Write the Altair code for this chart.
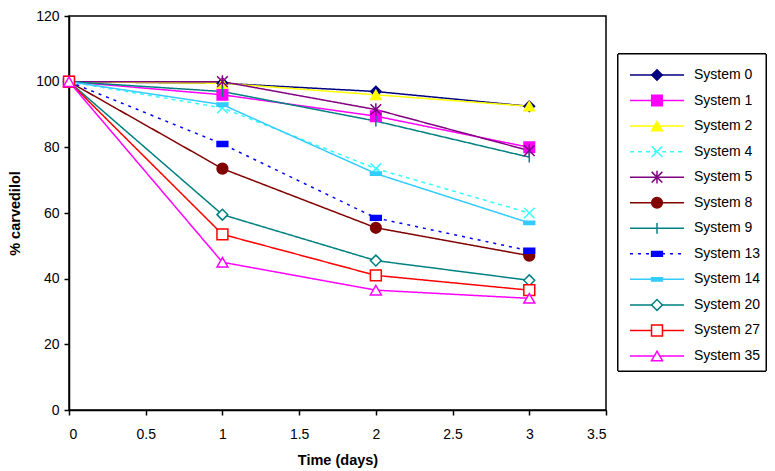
import altair as alt
import pandas as pd

series = ["System 0", "System 1", "System 2", "System 4", "System 5", "System 8",
          "System 9", "System 13", "System 14", "System 20", "System 27", "System 35"]
days = [0, 1, 2, 3]
values = {
    "System 0": [100, 99.5, 97, 92.5],
    "System 1": [100, 96, 89.5, 80],
    "System 2": [100, 99.5, 96, 92.5],
    "System 4": [100, 92, 73.5, 60],
    "System 5": [100, 100, 91.5, 79],
    "System 8": [100, 73.5, 55.5, 47],
    "System 9": [100, 97, 88, 77],
    "System 13": [100, 81, 58.5, 48.5],
    "System 14": [100, 93, 72, 57],
    "System 20": [100, 59.5, 45.5, 39.5],
    "System 27": [100, 53.5, 41, 36.5],
    "System 35": [100, 45, 36.5, 34],
}

colors = ["#000080", "#FF00FF", "#FFFF00", "#33FFFF", "#800080", "#800000",
          "#008080", "#0000FF", "#33CCFF", "#008080", "#FF0000", "#FF00FF"]
fills = ["#000080", "#FF00FF", "#FFFF00", "transparent", "transparent", "#800000",
         "transparent", "#0000FF", "#33CCFF", "white", "white", "white"]
shapes = ["diamond", "square", "triangle-up",
          "M-1,-1L1,1M-1,1L1,-1",
          "M-1,-1L1,1M-1,1L1,-1M0,-1.2L0,1.2",
          "circle",
          "M0,-1L0,1",
          "M-1,-0.45L1,-0.45L1,0.45L-1,0.45Z",
          "M-1,-0.3L1,-0.3L1,0.3L-1,0.3Z",
          "diamond", "square", "triangle-up"]
sizes = [110, 120, 120, 110, 110, 150, 120, 50, 110, 110, 120, 130]
dashes = [[1, 0], [1, 0], [1, 0], [4, 4], [1, 0], [1, 0],
          [1, 0], [3, 5], [1, 0], [1, 0], [1, 0], [1, 0]]

rows = []
for s in series:
    for d, v in zip(days, values[s]):
        rows.append({"series": s, "day": d, "pct": v})
df = pd.DataFrame(rows)
leg_df = pd.DataFrame({"series": series})

FONT = "Liberation Sans"

color_sc = alt.Scale(domain=series, range=colors)
fill_sc = alt.Scale(domain=series, range=fills)
shape_sc = alt.Scale(domain=series, range=shapes)
size_sc = alt.Scale(domain=series, range=sizes)
dash_sc = alt.Scale(domain=series, range=dashes)

x_enc = alt.X("day:Q", scale=alt.Scale(domain=[0, 3.5], nice=False),
              axis=alt.Axis(values=[0, 0.5, 1, 1.5, 2, 2.5, 3, 3.5], format="~g",
                            title="Time (days)", labelPadding=12, titlePadding=12))
y_enc = alt.Y("pct:Q", scale=alt.Scale(domain=[0, 120], nice=False),
              axis=alt.Axis(values=[0, 20, 40, 60, 80, 100, 120],
                            title="% carvedilol", labelPadding=5, titlePadding=13))

base = alt.Chart(df)
lines = base.mark_line(strokeWidth=1.5).encode(
    x=x_enc, y=y_enc,
    color=alt.Color("series:N", scale=color_sc, legend=None),
    strokeDash=alt.StrokeDash("series:N", scale=dash_sc, legend=None),
    detail="series:N",
)
points = base.mark_point(strokeWidth=1.5, opacity=1).encode(
    x="day:Q", y="pct:Q",
    stroke=alt.Stroke("series:N", scale=color_sc, legend=None),
    fill=alt.Fill("series:N", scale=fill_sc, legend=None),
    shape=alt.Shape("series:N", scale=shape_sc, legend=None),
    size=alt.Size("series:N", scale=size_sc, legend=None),
)
main = alt.layer(lines, points).properties(
    width=537, height=394, view=alt.ViewBackground(stroke="black", strokeWidth=1.5)
)

ly = alt.Y("series:N", sort=series, axis=None,
           scale=alt.Scale(type="point", range=[59, 340], padding=0))
leg_base = alt.Chart(leg_df)
border = leg_base.mark_rect(fill="white", stroke="black", strokeWidth=1).encode(
    x=alt.value(0), x2=alt.value(148), y=alt.value(38), y2=alt.value(355)
)
leg_rules = leg_base.mark_rule(strokeWidth=1.5).encode(
    x=alt.value(12), x2=alt.value(66), y=ly,
    color=alt.Color("series:N", scale=color_sc, legend=None),
    strokeDash=alt.StrokeDash("series:N", scale=dash_sc, legend=None),
)
leg_pts = leg_base.mark_point(strokeWidth=1.5, opacity=1).encode(
    x=alt.value(39), y=ly,
    stroke=alt.Stroke("series:N", scale=color_sc, legend=None),
    fill=alt.Fill("series:N", scale=fill_sc, legend=None),
    shape=alt.Shape("series:N", scale=shape_sc, legend=None),
    size=alt.Size("series:N", scale=size_sc, legend=None),
)
leg_text = leg_base.mark_text(align="left", baseline="middle", fontSize=14,
                              font=FONT, color="black").encode(
    x=alt.value(76), y=ly, text="series:N"
)
legend = alt.layer(border, leg_rules, leg_pts, leg_text).properties(
    width=148, height=394, view=alt.ViewBackground(stroke="transparent")
)

chart = alt.hconcat(
    main, legend, spacing=9, background="white",
    padding={"left": -2, "top": 0, "right": 0, "bottom": 0}
).configure_axis(
    grid=False, domainColor="black", tickColor="black", tickSize=5,
    labelColor="black", labelFont=FONT, labelFontSize=14,
    titleFont=FONT, titleFontSize=14.5, titleFontWeight="bold", titleColor="black",
    domainWidth=1.5, tickWidth=1.5
)

chart.save("out.html", embed_options={"renderer": "svg", "actions": False})
